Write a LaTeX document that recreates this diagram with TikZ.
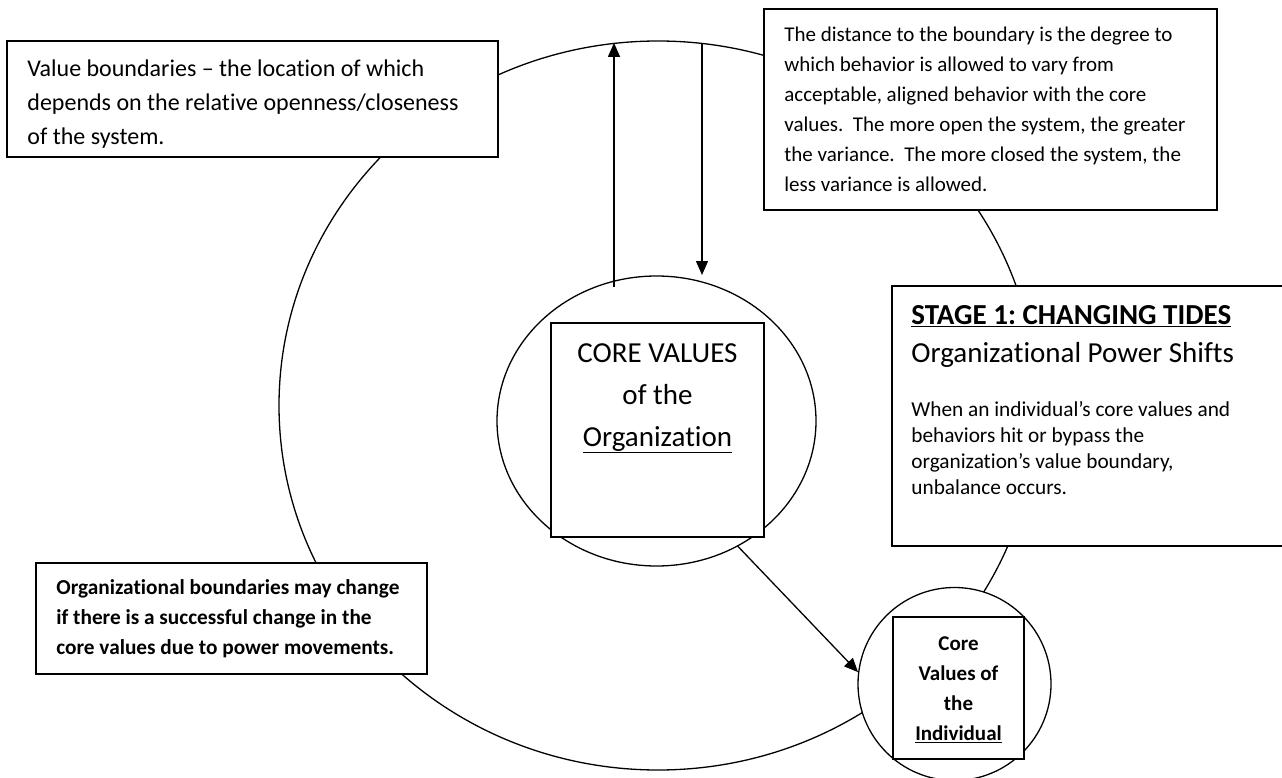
\documentclass[tikz,border=0pt]{standalone}
\usepackage{fontspec}
\setmainfont{Carlito}[Ligatures={TeX,NoCommon}]
\usepackage{tikz}
\usetikzlibrary{arrows.meta,positioning,shapes.geometric}
\tikzset{
  ring/.style={ellipse,draw,fill=white,line width=1.3pt,inner sep=0pt},
  panel/.style={rectangle,draw,fill=white,line width=1.6pt,inner sep=0pt},
  txt/.style={inner sep=0pt,align=left},
  flow/.style={line width=1.3pt,-{Triangle[length=14pt,width=12pt]}}
}
\newcommand{\setsz}[2]{\fontsize{#1}{#2}\selectfont}
\frenchspacing

\begin{document}
\begin{tikzpicture}[x=1pt,y=-1pt]
  \def\W{1282} \def\H{778}
  \useasboundingbox (0,0) rectangle (\W,\H);

  % boundaries
  \node[ring,minimum width=758pt,minimum height=729pt] (bigring) at (658,405.5) {};
  \node[ring,minimum width=319pt,minimum height=290pt] (orgring) at (656.5,421) {};
  \node[ring,minimum size=193pt] (indring) at (954.5,684) {};

  % boxes
  \node[panel,minimum width=491pt,minimum height=116pt] (valbox)   at (252.5,99)    {};
  \node[panel,minimum width=453pt,minimum height=201pt] (distbox)  at (990.5,109.5) {};
  \node[panel,minimum width=408pt,minimum height=260pt] (stagebox) at (1096,416)    {};
  \node[panel,minimum width=213pt,minimum height=214pt] (orgbox)   at (657.5,430)   {};
  \node[panel,minimum width=391pt,minimum height=111pt] (shiftbox) at (231.5,618.5) {};
  \node[panel,minimum width=131pt,minimum height=142pt] (indbox)   at (958.5,688)   {};

  % texts
  \node[txt,font=\setsz{24}{34},right=21pt of valbox.west,yshift=-5pt] (valtext)
    {Value boundaries -- the location of which\\depends on the relative openness/closeness\\of the system.};
  \node[txt,font=\setsz{21}{30},right=21pt of distbox.west] (disttext)
    {The distance to the boundary is the degree to\\which behavior is allowed to vary from\\acceptable, aligned behavior with the core\\values.\ \ The more open the system, the greater\\the variance.\ \ The more closed the system, the\\less variance is allowed.};
  \node[txt,font=\setsz{29}{38},below right=20pt and 20pt of stagebox.north west] (stagehead)
    {\textbf{\underline{STAGE 1: CHANGING TIDES}}\\Organizational Power Shifts};
  \node[txt,font=\setsz{21.3}{26},below right=34pt and 0pt of stagehead.south west] (stagebody)
    {When an individual's core values and\\behaviors hit or bypass the\\organization's value boundary,\\unbalance occurs.};
  \node[txt,align=center,font=\setsz{29}{42},below=21pt of orgbox.north] (orgtext)
    {CORE VALUES\\of the\\\underline{Organization}};
  \node[txt,font=\setsz{21.3}{30}\bfseries,right=21pt of shiftbox.west] (shifttext)
    {Organizational boundaries may change\\if there is a successful change in the\\core values due to power movements.};
  \node[txt,align=center,font=\setsz{21}{30}\bfseries,yshift=-1.5pt] (indtext) at (indbox)
    {Core\\Values of\\the\\\underline{Individual}};

  % arrows
  \coordinate (upfoot) at (614,287);
  \coordinate (downtip) at (702,275);
  \draw[flow] (upfoot) -- (upfoot |- bigring.97);
  \draw[flow] (downtip |- bigring.83) -- (downtip);
  \draw[flow] (orgring.-57.5) -- (indring.173);
\end{tikzpicture}
\end{document}
